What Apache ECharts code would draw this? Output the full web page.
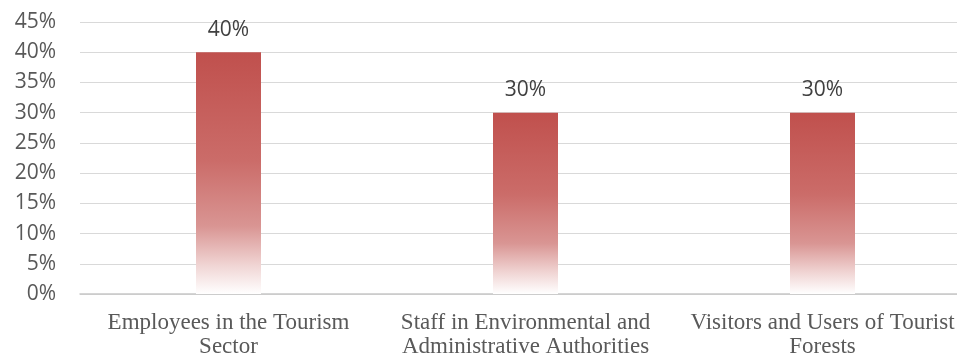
<!DOCTYPE html>
<html><head><meta charset="utf-8">
<script src="https://cdn.jsdelivr.net/npm/echarts@6/dist/echarts.min.js"></script>
<style>html,body{margin:0;padding:0;background:#fff}#c{width:957px;height:358px}</style>
</head><body><div id="c"></div>
<script>
const categories = ["Employees in the Tourism\nSector", "Staff in Environmental and\nAdministrative Authorities", "Visitors and Users of Tourist\nForests"];
const values = [40, 30, 30];
const yTicks = [0, 5, 10, 15, 20, 25, 30, 35, 40, 45];

const chart = echarts.init(document.getElementById('c'));
chart.setOption({
  animation: false,
  grid: { left: 80, width: 891, top: 22, bottom: 64, outerBoundsMode: 'none', containLabel: false },
  xAxis: {
    type: 'category', data: categories,
    axisLine: { lineStyle: { color: '#c8c8c8', width: 1.5 } },
    axisTick: { show: false },
    axisLabel: { fontFamily: 'Liberation Serif', fontSize: 23, color: '#595959', lineHeight: 24, margin: 17, interval: 0 }
  },
  yAxis: {
    type: 'value', min: yTicks[0], max: yTicks[yTicks.length - 1], interval: 5,
    axisLine: { show: false }, axisTick: { show: false },
    splitLine: { lineStyle: { color: '#d9d9d9', width: 1 } },
    axisLabel: { formatter: '{value}%', fontFamily: 'Open Sans', fontSize: 21, color: '#595959', margin: 24 }
  },
  series: [{
    type: 'bar', data: values, barWidth: 65,
    itemStyle: {
      color: new echarts.graphic.LinearGradient(0, 0, 0, 1, [
        { offset: 0, color: '#c0504d' },
        { offset: 0.45, color: '#cb6c69' },
        { offset: 0.72, color: '#d99593' },
        { offset: 0.88, color: '#f0d4d3' },
        { offset: 1, color: '#ffffff' }
      ])
    },
    label: { show: true, position: 'top', distance: 12, formatter: '{c}%', fontFamily: 'Open Sans', fontSize: 21, color: '#404040' }
  }]
});
</script></body></html>
